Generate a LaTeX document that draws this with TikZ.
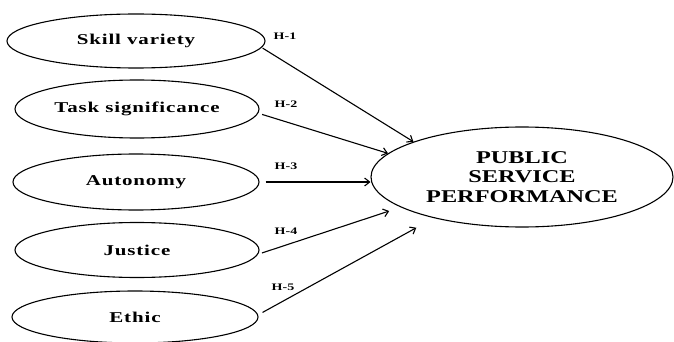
\documentclass[tikz,border=0pt]{standalone}
\usepackage{graphicx}
\usepackage{fontspec}
\setmainfont{Liberation Serif}
\newfontfamily\spaced{Liberation Serif}[LetterSpace=4]
\usetikzlibrary{arrows.meta,shapes.geometric}
\newcommand\sx[1]{\scalebox{1.4}[1]{#1}}
\begin{document}
\begin{tikzpicture}[x=1pt,y=-1pt,
  oval/.style={draw, ellipse, line width=1.1pt, inner sep=0pt, font=\fontsize{15}{18}\spaced\bfseries},
  link/.style={-{Straight Barb[length=5pt,width=8pt]}, line width=1.1pt},
  hlab/.style={font=\fontsize{10}{12}\selectfont\bfseries, inner sep=0pt}]
\useasboundingbox (0,0) rectangle (674,342);
\node[oval, minimum width=258pt, minimum height=54pt] (sv) at (136,41) {\sx{Skill variety}};
\node[oval, minimum width=244pt, minimum height=58pt] (ts) at (137,109) {\sx{Task significance}};
\node[oval, minimum width=246pt, minimum height=56pt] (au) at (136,182) {\sx{Autonomy}};
\node[oval, minimum width=244pt, minimum height=55pt] (ju) at (137,250) {\sx{Justice}};
\node[oval, minimum width=246pt, minimum height=52pt] (et) at (135,317) {\sx{Ethic}};
\node[oval, minimum width=302pt, minimum height=100pt, align=center,
      font=\fontsize{18}{19.5}\selectfont\bfseries] (psp) at (522,177)
      {\scalebox{1.35}[1]{PUBLIC}\\\scalebox{1.35}[1]{SERVICE}\\\scalebox{1.35}[1]{PERFORMANCE}};
\node[hlab] (h1) at (285,36) {\sx{H-1}};
\node[hlab] (h2) at (286,104) {\sx{H-2}};
\node[hlab] (h3) at (286,166) {\sx{H-3}};
\node[hlab] (h4) at (286,231) {\sx{H-4}};
\node[hlab] (h5) at (283,287) {\sx{H-5}};
\draw[link, shorten <=1pt] (sv.-3) -- (psp.162);
\draw[link, shorten <=4pt] (ts.-2) -- (psp.170);
\draw[link, shorten <=6pt] (au.east) -- (au.east -| psp.west);
\draw[link, shorten <=4pt, shorten >=12pt] (ju.-2) -- (psp.194);
\draw[link, shorten <=5pt, shorten >=20pt] (et.1) -- (psp.205);
\end{tikzpicture}
\end{document}
